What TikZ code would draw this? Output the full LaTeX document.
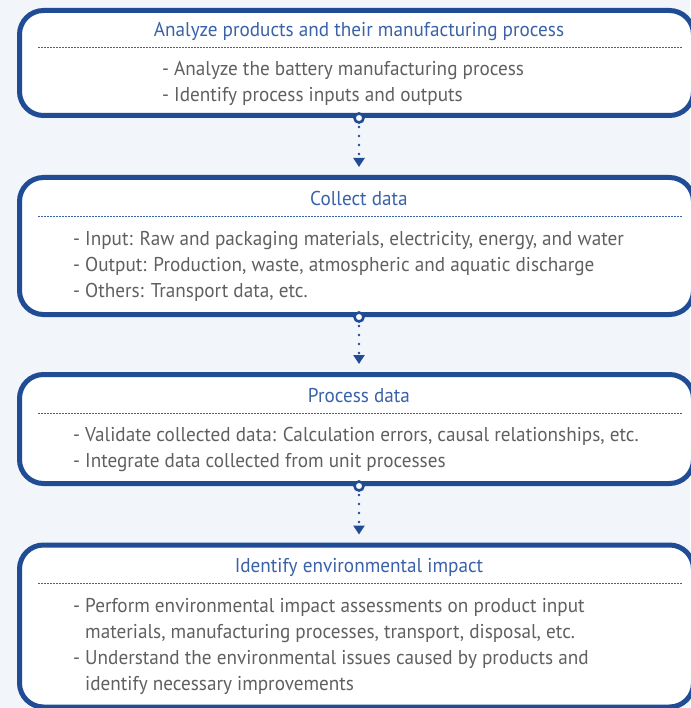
\documentclass[tikz,border=0pt]{standalone}
\usepackage{fontspec}
\setmainfont{PT Sans}[FakeStretch=0.96]
\usetikzlibrary{arrows.meta}
\definecolor{frameblue}{RGB}{31,76,148}
\definecolor{titleblue}{RGB}{58,98,168}
\definecolor{bodygray}{RGB}{96,96,96}
\definecolor{pagebg}{RGB}{242,245,250}
\newcommand{\itemlines}[1]{\begin{tabular}[t]{@{}l@{}}#1\end{tabular}}
\tikzstyle{stage} = [rectangle, rounded corners=24pt, minimum width=674pt, draw=frameblue, line width=5pt, fill=white, inner sep=0pt]
\tikzstyle{title} = [anchor=base, text=titleblue, font=\fontsize{20}{26}\selectfont, inner sep=0pt]
\tikzstyle{body} = [anchor=base west, text=bodygray, font=\fontsize{20}{26}\selectfont, inner sep=0pt]
\tikzstyle{sep} = [draw=titleblue, line width=1pt, dash pattern=on 1.5pt off 1.5pt]
\tikzstyle{ring} = [circle, draw=frameblue, line width=2.6pt, fill=white, minimum size=9pt, inner sep=0pt]
\tikzstyle{arrow} = [draw=frameblue, line width=2.6pt, line cap=round, dash pattern=on 0pt off 9pt, -{Triangle[length=9pt,width=11pt]}, shorten <=9pt, shorten >=8pt]

\begin{document}
\begin{tikzpicture}[x=1pt, y=-1pt]
		\fill [pagebg] (0,0) rectangle (690,708);
		\useasboundingbox (0,0) rectangle (690,708);
		% stages
		\node (analyze) [stage, minimum height=105pt] at (356.5,63) {};
		\node (collect) [stage, minimum height=137pt] at (356.5,246) {};
		\node (process) [stage, minimum height=109pt] at (356.5,429) {};
		\node (impact) [stage, minimum height=162pt] at (356.5,626) {};
		% titles
		\node (t1) [title] at (359,37) {Analyze products and their manufacturing process};
		\node (t2) [title] at (359,206) {Collect data};
		\node (t3) [title] at (359,402) {Process data};
		\node (t4) [title] at (359,572) {Identify environmental impact};
		\draw [sep] (38,48) -- (682,48);
		\draw [sep] (38,217) -- (682,217);
		\draw [sep] (38,413) -- (682,413);
		\draw [sep] (38,583) -- (682,583);
		% items
		\node (l1) [body] at (162,76) {\itemlines{- Analyze the battery manufacturing process\\- Identify process inputs and outputs}};
		\node (l2) [body] at (73,245) {\itemlines{- Input: Raw and packaging materials, electricity, energy, and water\\- Output: Production, waste, atmospheric and aquatic discharge\\- Others: Transport data, etc.}};
		\node (l3) [body] at (73,441) {\itemlines{- Validate collected data: Calculation errors, causal relationships, etc.\\- Integrate data collected from unit processes}};
		\node (l4) [body] at (73,612) {\itemlines{- Perform environmental impact assessments on product input\\\phantom{- }materials, manufacturing processes, transport, disposal, etc.\\- Understand the environmental issues caused by products and\\\phantom{- }identify necessary improvements}};
		% links
		\draw [arrow] ([xshift=2.5pt]analyze.south) -- ([xshift=2.5pt]collect.north);
		\draw [arrow] ([xshift=2.5pt]collect.south) -- ([xshift=2.5pt]process.north);
		\draw [arrow] ([xshift=2.5pt]process.south) -- ([xshift=2.5pt]impact.north);
		\node (r1) [ring] at ([xshift=2.5pt]analyze.south) {};
		\node (r2) [ring] at ([xshift=2.5pt]collect.south) {};
		\node (r3) [ring] at ([xshift=2.5pt]process.south) {};
	\end{tikzpicture}
\end{document}
